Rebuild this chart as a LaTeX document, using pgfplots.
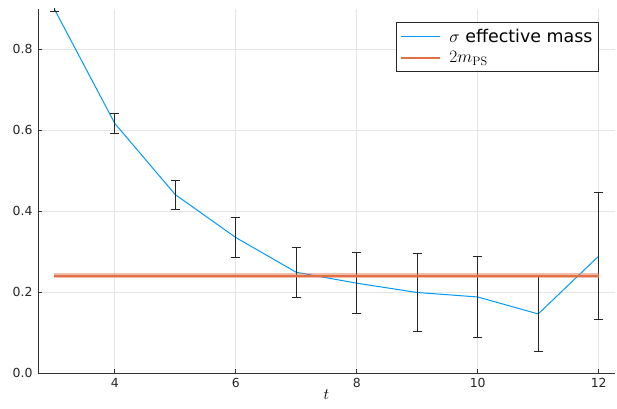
\RequirePackage{fix-cm}
\documentclass[border=0pt]{standalone}
\usepackage[no-math]{fontspec}
\setmainfont{DejaVu Sans}
\usepackage{pgfplots}
\pgfplotsset{compat=1.18}

\definecolor{plblue}{HTML}{009AFA}
\definecolor{plorange}{HTML}{E26F46}

\begin{document}
\begin{tikzpicture}
    \begin{axis}[
        scale only axis,
        width=577bp, height=364bp,
        xmin=2.73, xmax=12.27,
        ymin=0, ymax=0.9,
        xtick={4,6,8,10,12},
        ytick={0,0.2,0.4,0.6,0.8},
        yticklabel style={
            /pgf/number format/fixed,
            /pgf/number format/fixed zerofill,
            /pgf/number format/precision=1,
            xshift=-2bp},
        /pgf/number format/assume math mode=true,
        axis x line*=bottom,
        axis y line*=left,
        axis line style={black!80, line width=0.9bp, -},
        tick align=inside,
        major tick length=4bp,
        tick style={black!80, line width=0.9bp},
        grid=major,
        grid style={black!10, line width=0.8bp},
        tick label style={font=\fontsize{12.5}{14}\selectfont, black!85},
        xticklabel style={yshift=-2bp},
        xlabel={$t$},
        xlabel style={font=\fontsize{16}{18}\selectfont, yshift=5bp},
        legend style={
            at={(0.972,0.964)}, anchor=north east,
            font=\fontsize{17.5}{20}\selectfont,
            draw=black!85, line width=0.8bp,
            inner xsep=4bp, inner ysep=5bp,
            row sep=3bp,
            /tikz/every odd column/.append style={column sep=6bp},
        },
        legend cell align=left,
        legend image code/.code={\draw[#1] (0bp,0bp) -- (39bp,0bp);},
    ]
        \addlegendimage{plblue, line width=1.2bp}
        \addlegendentry{$\sigma$ effective mass}
        \addlegendimage{plorange, line width=2bp}
        \addlegendentry{$2m_{\mathrm{PS}}$}
        \addplot[
            color=plblue, line width=1bp, mark=none, forget plot,
            error bars/.cd,
            y dir=both, y explicit,
            error bar style={black!85, line width=1.1bp},
            error mark options={rotate=90, mark size=4.5bp, black!85, line width=1.1bp},
        ] coordinates {
            (3, 0.900)  +- (0, 0.006)
            (4, 0.617)  +- (0, 0.024)
            (5, 0.441)  +- (0, 0.036)
            (6, 0.335)  +- (0, 0.050)
            (7, 0.249)  +- (0, 0.062)
            (8, 0.222)  +- (0, 0.075)
            (9, 0.199)  +- (0, 0.096)
            (10, 0.188) +- (0, 0.101)
            (11, 0.146) +- (0, 0.093)
            (12, 0.289) +- (0, 0.157)
        };
        \addplot[color=plorange, opacity=0.45, line width=5bp, forget plot] coordinates {
            (3, 0.240) (12, 0.240)
        };
        \addplot[color=plorange, line width=2bp, forget plot] coordinates {
            (3, 0.240) (12, 0.240)
        };
    \end{axis}
    \pgfresetboundingbox
    \path (-38bp,-36bp) rectangle (579bp,373bp);
\end{tikzpicture}
\end{document}
